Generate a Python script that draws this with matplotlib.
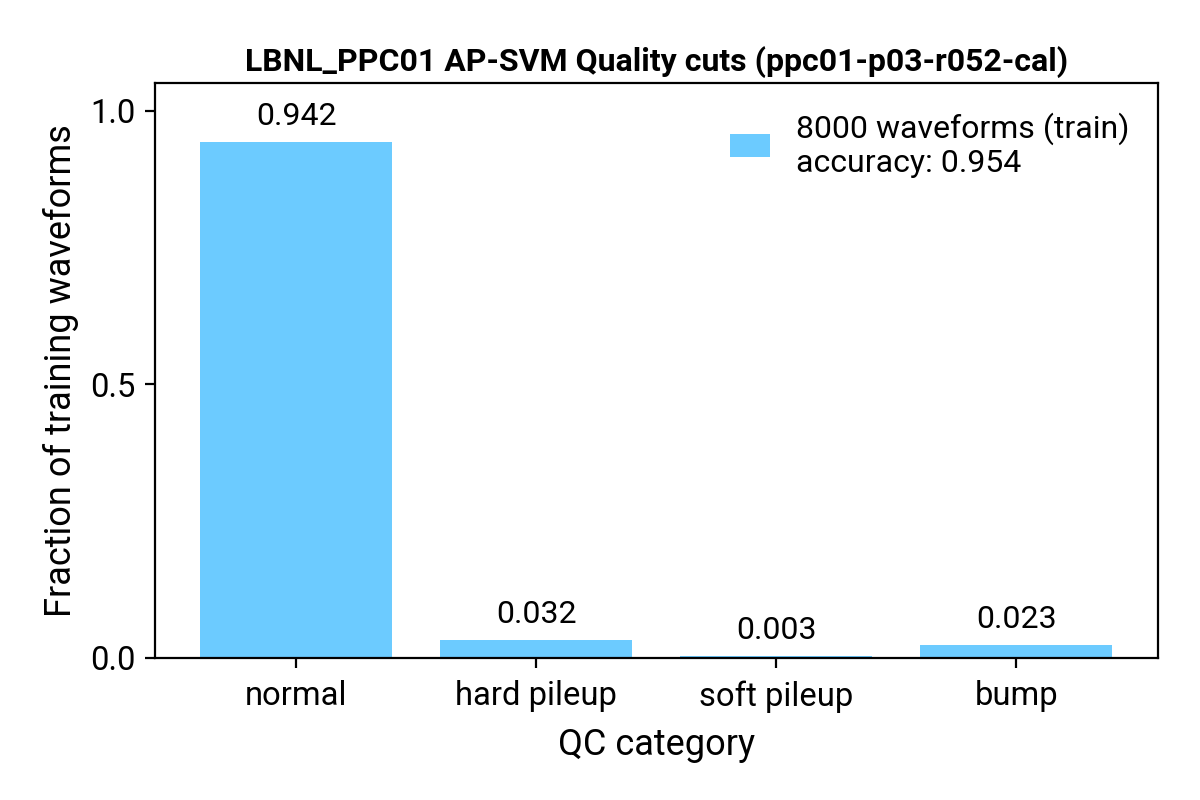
import matplotlib
matplotlib.use("Agg")
import matplotlib.pyplot as plt

categories = ["normal", "hard pileup", "soft pileup", "bump"]
fractions = [0.942, 0.032, 0.003, 0.023]
n_waveforms = 8000
accuracy = 0.954

plt.rcParams["font.family"] = ["Roboto", "DejaVu Sans"]

fig, ax = plt.subplots(figsize=(6, 4), dpi=200)
fig.subplots_adjust(left=0.129, right=0.965, top=0.896, bottom=0.1775)

bars = ax.bar(range(len(categories)), fractions, width=0.8, color="#6ccbff",
              label=f"{n_waveforms} waveforms (train)\naccuracy: {accuracy:.3f}")

for b, v in zip(bars, fractions):
    ax.annotate(f"{v:.3f}", (b.get_x() + b.get_width() / 2, v),
                xytext=(0, 4), textcoords="offset points",
                ha="center", va="bottom", fontsize=11.5)

ax.set_xticks(range(len(categories)))
ax.set_xticklabels(categories)
ax.set_ylim(0, 1.05)
ax.set_yticks([0.0, 0.5, 1.0])
ax.tick_params(labelsize=11.8)
ax.tick_params(axis="x", pad=4.5)
ax.set_xlabel("QC category", fontsize=13, labelpad=5)
ax.set_ylabel("Fraction of training waveforms", fontsize=13)
ax.set_title("LBNL_PPC01 AP-SVM Quality cuts (ppc01-p03-r052-cal)",
             fontsize=11.5, fontweight="bold", pad=4.5)
ax.legend(frameon=False, fontsize=11.5, loc="upper right", handlelength=1.25,
          labelspacing=0.6)

fig.savefig("out.png")
